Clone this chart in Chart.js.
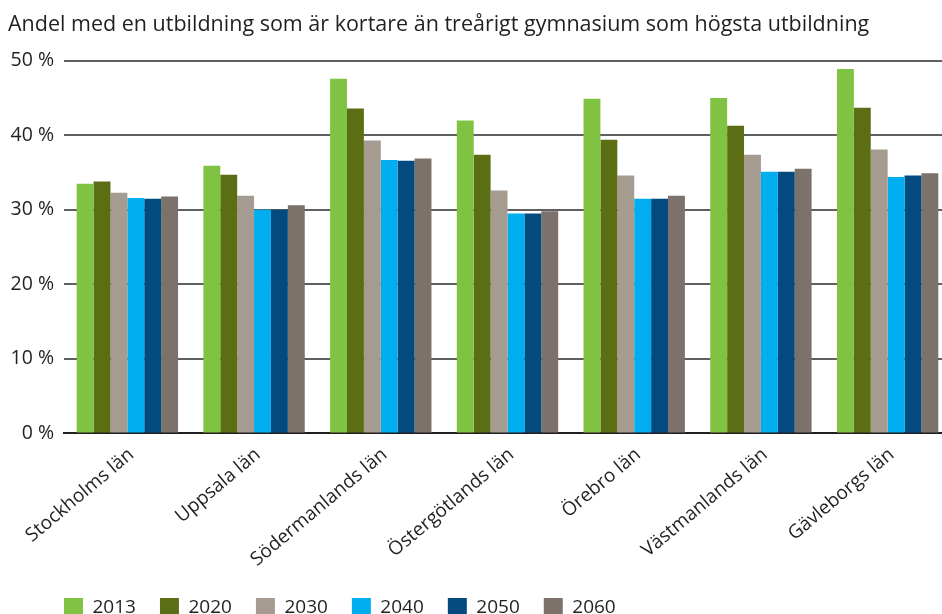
<!DOCTYPE html>
<html lang="sv">
<head>
<meta charset="utf-8">
<title>Andel med kort utbildning</title>
<script src="https://cdn.jsdelivr.net/npm/chart.js@4.4.1/dist/chart.umd.min.js"></script>
<style>
  html, body { margin: 0; padding: 0; background: #fff; overflow: hidden; }
  /* plot runs a few px past the right edge in the original */
  #wrap { width: 951px; height: 614px; }
</style>
</head>
<body>
<div id="wrap"><canvas id="lanChart"></canvas></div>
<script>
// Data (percent)
const lan = ['Stockholms län', 'Uppsala län', 'Södermanlands län', 'Östergötlands län', 'Örebro län', 'Västmanlands län', 'Gävleborgs län'];
const years = ['2013', '2020', '2030', '2040', '2050', '2060'];
const v2013 = [33.5, 35.9, 47.6, 42.0, 44.9, 45.0, 48.9];
const v2020 = [33.8, 34.7, 43.6, 37.4, 39.4, 41.3, 43.7];
const v2030 = [32.3, 31.9, 39.3, 32.6, 34.6, 37.4, 38.1];
const v2040 = [31.6, 30.0, 36.7, 29.5, 31.5, 35.1, 34.4];
const v2050 = [31.5, 30.0, 36.6, 29.5, 31.5, 35.1, 34.6];
const v2060 = [31.8, 30.6, 36.9, 29.8, 31.9, 35.5, 34.9];
const yTicks = [0, 10, 20, 30, 40, 50];

const colors = ['#80c342', '#5b6e14', '#a59b91', '#00adee', '#034b7f', '#7c716b'];
const series = [v2013, v2020, v2030, v2040, v2050, v2060];
const textColor = '#231f20';
const fontFamily = '"Open Sans", "Noto Sans", sans-serif';

// legend: wide item spacing but a short box, starts further in from the left, sits low (cut off at the bottom)
const legendShift = {
  id: 'legendShift',
  beforeLayout(chart) {
    const lg = chart.legend;
    if (lg && !lg._shortFit) {
      const fit = lg.fit;
      lg.fit = function () { fit.call(this); this.height = 41; };
      lg._shortFit = true;
    }
  },
  afterUpdate(chart) {
    const lg = chart.legend;
    if (!lg) return;
    lg.left += 32;
    lg.right += 32;
    lg.top += 1;
    lg.bottom += 1;
    lg.adjustHitBoxes();
  }
};

new Chart(document.getElementById('lanChart'), {
  type: 'bar',
  data: {
    labels: lan,
    datasets: years.map((y, i) => ({
      label: y,
      data: series[i],
      backgroundColor: colors[i],
      borderWidth: 0,
      barPercentage: 1,
      categoryPercentage: 0.8
    }))
  },
  options: {
    responsive: true,
    maintainAspectRatio: false,
    animation: false,
    layout: { padding: { left: 8, right: 0, top: 0, bottom: 0 } },
    plugins: {
      title: {
        display: true,
        text: 'Andel med en utbildning som är kortare än treårigt gymnasium som högsta utbildning',
        align: 'start',
        color: textColor,
        font: { family: fontFamily, size: 21.5, weight: 'normal' },
        padding: { top: 12, bottom: 23 }
      },
      legend: {
        position: 'bottom',
        align: 'start',
        labels: {
          color: textColor,
          font: { family: fontFamily, size: 19 },
          boxWidth: 19,
          boxHeight: 19,
          padding: 24
        }
      },
      tooltip: { enabled: false }
    },
    scales: {
      x: {
        grid: { display: false },
        border: { display: true, color: '#231f20', width: 2 },
        afterFit: (scale) => { scale.paddingLeft = 0; },
        ticks: {
          color: textColor,
          font: { family: fontFamily, size: 19 },
          maxRotation: 40,
          minRotation: 40,
          autoSkip: false,
          labelOffset: 4,
          padding: 2
        }
      },
      y: {
        min: 0,
        max: 50,
        afterBuildTicks: (axis) => { axis.ticks = yTicks.map(v => ({ value: v })); },
        afterFit: (axis) => { axis.width = 56; },
        border: { display: false },
        grid: {
          color: (ctx) => ctx.tick && ctx.tick.value === 0 ? '#231f20' : '#5f5f5f',
          lineWidth: 2,
          drawTicks: false
        },
        ticks: {
          color: textColor,
          font: { family: fontFamily, size: 19.5 },
          padding: 10,
          callback: (v) => v + ' %'
        }
      }
    }
  },
  plugins: [legendShift]
});
</script>
</body>
</html>
